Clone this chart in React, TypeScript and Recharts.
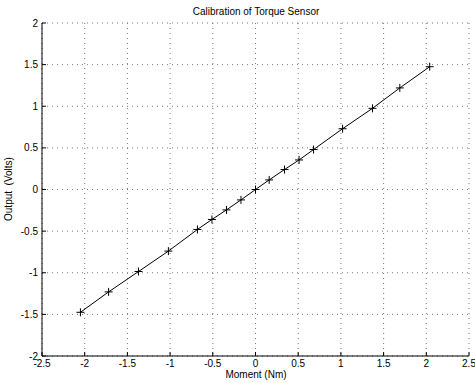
import { LineChart, Line, XAxis, YAxis, CartesianGrid } from 'recharts'

const moment = [-2.05, -1.72, -1.37, -1.02, -0.68, -0.51, -0.34, -0.17, 0, 0.16, 0.34, 0.51, 0.68, 1.02, 1.37, 1.69, 2.04]
const output = [-1.475, -1.23, -0.985, -0.74, -0.48, -0.36, -0.245, -0.125, 0, 0.115, 0.24, 0.355, 0.48, 0.73, 0.975, 1.22, 1.475]
const xTicks = [-2.5, -2, -1.5, -1, -0.5, 0, 0.5, 1, 1.5, 2, 2.5]
const yTicks = [-2, -1.5, -1, -0.5, 0, 0.5, 1, 1.5, 2]

const data = moment.map((m, i) => ({ moment: m, output: output[i] }))

const font = "'Liberation Sans', Arial, sans-serif"
const tickStyle = { fontSize: 10, fill: '#000', fontFamily: font }

function Plus(props: any) {
  const { cx, cy } = props
  if (cx == null || cy == null) return null
  return (
    <g>
      <line x1={cx - 4} y1={cy} x2={cx + 4} y2={cy} stroke="#000" strokeWidth={1} />
      <line x1={cx} y1={cy - 4} x2={cx} y2={cy + 4} stroke="#000" strokeWidth={1} />
    </g>
  )
}

export default function App() {
  return (
    <div
      style={{
        position: 'absolute',
        left: 0,
        top: 0,
        width: 475,
        height: 383,
        background: '#fff',
        fontFamily: font,
      }}
    >
      <LineChart width={475} height={383} data={data} margin={{ top: 23, right: 6, bottom: 0, left: 8 }}>
        <CartesianGrid stroke="#777" strokeDasharray="1 4" />
        <XAxis
          dataKey="moment"
          type="number"
          domain={[-2.5, 2.5]}
          ticks={xTicks}
          height={27}
          tickSize={-4}
          tickMargin={8}
          tick={tickStyle}
          axisLine={{ stroke: '#000' }}
          tickLine={{ stroke: '#000' }}
          interval={0}
        />
        <XAxis
          xAxisId="top"
          orientation="top"
          dataKey="moment"
          type="number"
          domain={[-2.5, 2.5]}
          ticks={xTicks}
          height={0}
          tickSize={-4}
          tick={false}
          axisLine={{ stroke: '#000' }}
          tickLine={{ stroke: '#000' }}
          interval={0}
        />
        <YAxis
          type="number"
          domain={[-2, 2]}
          ticks={yTicks}
          width={34}
          tickSize={-4}
          tickMargin={8}
          tick={tickStyle}
          axisLine={{ stroke: '#000' }}
          tickLine={{ stroke: '#000' }}
          interval={0}
        />
        <YAxis
          yAxisId="right"
          orientation="right"
          type="number"
          domain={[-2, 2]}
          ticks={yTicks}
          width={0}
          tickSize={-4}
          tick={false}
          axisLine={{ stroke: '#000' }}
          tickLine={{ stroke: '#000' }}
          interval={0}
        />
        <Line
          type="linear"
          dataKey="output"
          stroke="#000"
          strokeWidth={1}
          dot={<Plus />}
          activeDot={false}
          isAnimationActive={false}
        />
      </LineChart>
      <div
        style={{
          position: 'absolute',
          left: 156,
          top: 7,
          width: 200,
          textAlign: 'center',
          fontSize: 10,
          lineHeight: '10px',
        }}
      >
        Calibration of Torque Sensor
      </div>
      <div
        style={{
          position: 'absolute',
          left: 156,
          top: 370,
          width: 200,
          textAlign: 'center',
          fontSize: 10,
          lineHeight: '10px',
        }}
      >
        Moment (Nm)
      </div>
      <div
        style={{
          position: 'absolute',
          left: 9 - 50,
          top: 189 - 5,
          width: 100,
          textAlign: 'center',
          fontSize: 10,
          lineHeight: '10px',
          whiteSpace: 'pre',
          transform: 'rotate(-90deg)',
        }}
      >
        Output  (Volts)
      </div>
    </div>
  )
}
